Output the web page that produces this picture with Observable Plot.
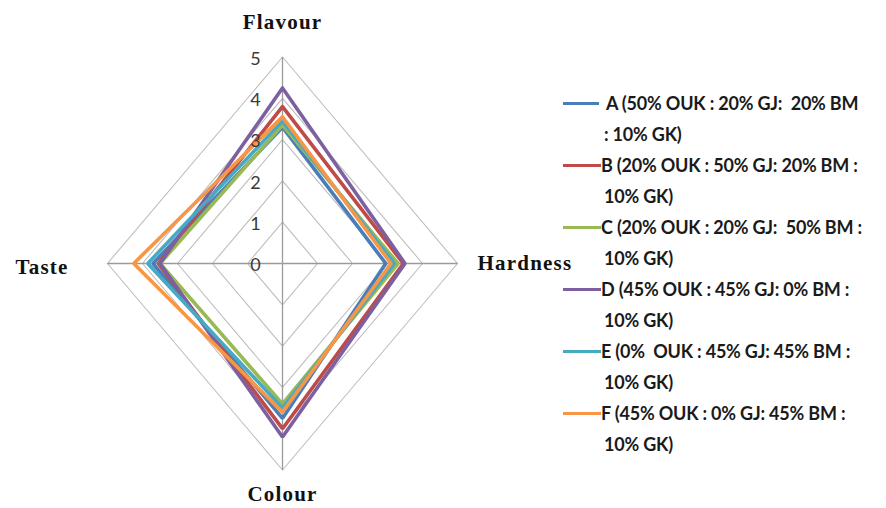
<!DOCTYPE html>
<html>
<head>
<meta charset="utf-8">
<script src="https://cdn.jsdelivr.net/npm/d3@7"></script>
<script src="https://cdn.jsdelivr.net/npm/@observablehq/plot@0.6"></script>
<style>
  body { margin: 0; background: #fff; }
  #wrap { position: relative; width: 886px; height: 508px; overflow: hidden; }
  #legend { position: absolute; left: 0; top: 0; width: 886px; height: 508px; pointer-events: none;
            font-family: Lato, "Open Sans", sans-serif; font-weight: bold; font-size: 18px; color: #1a1a1a;
            letter-spacing: -0.2px; }
  .lg-line { position: absolute; height: 3px; }
  .lg-text { position: absolute; white-space: pre; line-height: 20px; }
</style>
</head>
<body>
<div id="wrap"><div id="chart"></div><div id="legend"></div></div>
<script>
// ---- data ----
const axes = ["Flavour", "Hardness", "Colour", "Taste"];
const samples = ["A", "B", "C", "D", "E", "F"];
const flavour  = [3.30, 3.80, 3.35, 4.25, 3.45, 3.55];
const hardness = [2.95, 3.45, 3.30, 3.50, 3.20, 3.10];
const colour   = [3.75, 4.00, 3.40, 4.20, 3.50, 3.60];
const taste    = [3.70, 3.55, 3.50, 3.50, 3.85, 4.25];
const colors = ["#4A7EBB", "#BE4B48", "#98B954", "#7D60A0", "#46AAC5", "#F79646"];
const legendLabels = [
  ["A (50% OUK : 20% GJ:  20% BM", ": 10% GK)"],
  ["B (20% OUK : 50% GJ: 20% BM :", "10% GK)"],
  ["C (20% OUK : 20% GJ:  50% BM :", "10% GK)"],
  ["D (45% OUK : 45% GJ: 0% BM :", "10% GK)"],
  ["E (0%  OUK : 45% GJ: 45% BM :", "10% GK)"],
  ["F (45% OUK : 0% GJ: 45% BM :", "10% GK)"]
];
const ticks = [0, 1, 2, 3, 4, 5];

// ---- geometry helpers ----
const series = [flavour, hardness, colour, taste];
const angle = j => j * Math.PI / 2; // Flavour up, Hardness right, Colour down, Taste left
const px = (v, j) => v * Math.sin(angle(j));
const py = (v, j) => v * Math.cos(angle(j));

const lines = samples.flatMap((s, i) =>
  [0, 1, 2, 3, 0].map((j, k) => ({sample: s, k, x: px(series[j][i], j), y: py(series[j][i], j)}))
);
const rings = ticks.filter(t => t > 0).flatMap(t =>
  [0, 1, 2, 3, 0].map((j, k) => ({ring: t, k, x: px(t, j), y: py(t, j)}))
);
const spokes = axes.map((a, j) => ({axis: a, x: px(5, j), y: py(5, j)}));

const labelPos = [
  {dx: 0, dy: -35, anchor: "middle"},
  {dx: 20, dy: 0, anchor: "start"},
  {dx: 0, dy: 24, anchor: "middle"},
  {dx: -39, dy: 4, anchor: "end"}
];

const chart = Plot.plot({
  width: 886,
  height: 508,
  margin: 0,
  x: {domain: [-5, 5], range: [107, 457], axis: null},
  y: {domain: [-5, 5], range: [469.5, 56.5], axis: null},
  color: {domain: samples, range: colors},
  style: {background: "#fff"},
  marks: [
    Plot.line(rings, {x: "x", y: "y", z: "ring", stroke: "#BDBDBD", strokeWidth: 1.1}),
    Plot.link(spokes, {x1: 0, y1: 0, x2: "x", y2: "y", stroke: "#9a9a9a", strokeWidth: 1.3}),
    Plot.line(lines, {x: "x", y: "y", z: "sample", stroke: "sample", strokeWidth: 3.6, strokeLinejoin: "miter"}),
    Plot.text(ticks, {x: 0, y: d => d, text: d => String(d), dx: -27, dy: 2,
      fontSize: 18, fill: "#3a3a3a", fontFamily: "Lato, 'Open Sans', sans-serif"}),
    ...axes.map((a, j) => Plot.text([a], {
      x: px(5, j), y: py(5, j), text: d => d,
      dx: labelPos[j].dx, dy: labelPos[j].dy, textAnchor: labelPos[j].anchor,
      fontSize: 21, fontWeight: "bold", fill: "#111",
      fontFamily: "'Liberation Serif', 'DejaVu Serif', serif"
    }))
  ]
});
document.getElementById("chart").append(chart);
// widen the serif axis titles a little, as in the reference
d3.select(chart).selectAll("text").filter(function() { return axes.includes(this.textContent); })
  .style("letter-spacing", "1.2px");

// ---- legend ----
const legend = document.getElementById("legend");
const top0 = 103, gap = 31;
samples.forEach((s, i) => {
  const y1 = top0 + i * 2 * gap;
  const ln = document.createElement("div");
  ln.className = "lg-line";
  ln.style.left = "563px"; ln.style.width = (i === 0 ? 36 : 38) + "px";
  ln.style.top = (y1 - 1.5) + "px"; ln.style.background = colors[i];
  legend.append(ln);
  legendLabels[i].forEach((t, k) => {
    const el = document.createElement("div");
    el.className = "lg-text";
    el.textContent = t;
    el.style.left = (k === 0 ? (i === 0 ? 606 : 601) : 604) + "px";
    el.style.top = (y1 + k * gap - 10) + "px";
    legend.append(el);
  });
});
</script>
</body>
</html>
